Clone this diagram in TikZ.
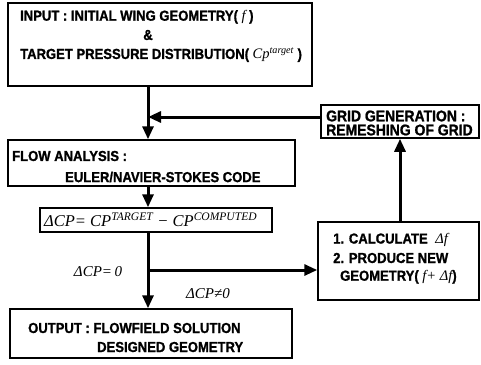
\documentclass[tikz,border=0pt]{standalone}
\usepackage{fontspec}
\setmainfont{Liberation Sans}[FakeStretch=0.9, BoldFeatures={FakeBold=1.2}]
\newfontfamily\tnr{Liberation Serif}
\usetikzlibrary{arrows.meta}
\newcommand{\mi}[1]{{\tnr\itshape\mdseries #1}}
\begin{document}
\begin{tikzpicture}[x=1bp,y=-1bp,
  box/.style={draw, line width=1.5bp, inner sep=0pt},
  txt/.style={anchor=west, inner sep=0pt, font=\fontsize{14.5bp}{16bp}\selectfont\bfseries},
  lab/.style={inner sep=0pt, font=\fontsize{15bp}{17bp}\selectfont},
  arr/.style={line width=3bp, -{Triangle[length=13bp,width=11bp]}}]
\useasboundingbox (0,0) rectangle (481,364);
% boxes
\node[box, minimum width=304bp, minimum height=83bp] (input) at (160,44.5) {};
\node[box, minimum width=158bp, minimum height=33bp] (grid) at (400,121.5) {};
\node[box, minimum width=287bp, minimum height=46bp] (flow) at (151.5,163) {};
\node[box, minimum width=232bp, minimum height=24bp] (delta) at (156,220) {};
\node[box, minimum width=161bp, minimum height=78bp] (calc) at (398.5,261) {};
\node[box, minimum width=282bp, minimum height=49bp] (output) at (151,333.5) {};
% texts
\node[txt] (in1) at (20,17) {INPUT : INITIAL WING GEOMETRY( \mi{f} )};
\node[txt, anchor=center] (in2) at (148,35) {\&};
\node[txt] (in3) at (20,55) {TARGET PRESSURE DISTRIBUTION( \mi{Cp\textsuperscript{target}} )};
\node[txt, font=\fontsize{15.5bp}{17bp}\selectfont\bfseries] (g1) at (326,116) {GRID GENERATION :};
\node[txt, font=\fontsize{15.5bp}{17bp}\selectfont\bfseries] (g2) at (326,130) {REMESHING OF GRID};
\node[txt] (f1) at (12,156) {FLOW ANALYSIS :};
\node[txt] (f2) at (65,177) {EULER/NAVIER-STOKES CODE};
\node[txt, font=\fontsize{16.5bp}{18bp}\selectfont] (d1) at (44,220) {\mi{ΔCP= CP\textsuperscript{TARGET} − CP\textsuperscript{COMPUTED}}};
\node[txt] (c1) at (333,240) {1. CALCULATE \;\mi{Δf}};
\node[txt] (c2) at (333,258) {2. PRODUCE NEW};
\node[txt] (c3) at (340,277) {GEOMETRY( \mi{f+ Δf})};
\node[txt] (o1) at (28,328) {OUTPUT : FLOWFIELD SOLUTION};
\node[txt] (o2) at (97,347) {DESIGNED GEOMETRY};
% coordinates
\coordinate (spine) at (148,0);
\coordinate (fb) at (148,117);
\coordinate (br) at (148,270);
% connectors
\draw[arr] (input.south -| spine) -- (flow.north -| spine);
\draw[arr] (grid.west |- fb) -- (fb);
\draw[arr] (flow.south -| spine) -- (delta.north -| spine);
\draw[arr] (delta.south -| spine) -- (output.north -| spine);
\draw[arr] (br) -- (calc.west |- br);
\draw[arr] (calc.north -| grid) -- (grid.south);
% labels
\node[lab] (l0) at (98,272) {\mi{ΔCP=\,0}};
\node[lab] (l1) at (208,294) {\mi{ΔCP≠0}};
\end{tikzpicture}
\end{document}
